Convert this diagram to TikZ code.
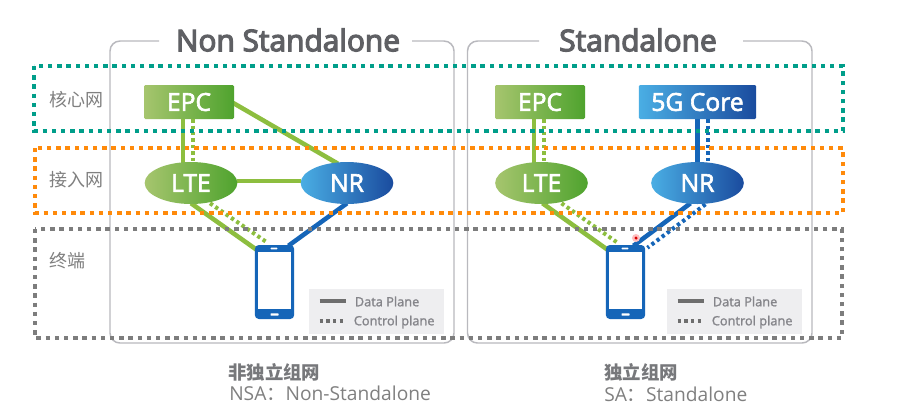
\documentclass[tikz,border=0pt]{standalone}
\usepackage{fontspec}
\setmainfont{Open Sans}
\newfontfamily\cjk{Noto Sans CJK SC}
\newfontfamily\titlefont[FakeBold=4]{Open Sans}
\newfontfamily\unitfont[FakeBold=2.5]{Open Sans}
\newfontfamily\legfont[FakeBold=1.5]{Open Sans}
\usetikzlibrary{calc,shapes.geometric}
\definecolor{tealbox}{HTML}{009E8A}
\definecolor{orangebox}{HTML}{FF8A0A}
\definecolor{graybox}{HTML}{7D7D7D}
\definecolor{frameC}{HTML}{B9B9BE}
\definecolor{titleC}{HTML}{5F6064}
\definecolor{greenL}{HTML}{A6C56E}
\definecolor{greenR}{HTML}{4FA32E}
\definecolor{blueL}{HTML}{4AAEE4}
\definecolor{blueR}{HTML}{1A4B9E}
\definecolor{greenLine}{HTML}{8DBE3F}
\definecolor{blueLine}{HTML}{1565B8}
\definecolor{legBg}{HTML}{EEEEF0}
\definecolor{legLine}{HTML}{6E6E6E}
\definecolor{legText}{HTML}{85858A}
\definecolor{labelC}{HTML}{808080}
\pgfdeclarelayer{conn}
\pgfsetlayers{conn,main}
\tikzset{
  zonebox/.style={line width=3.4pt,dash pattern=on 3.3pt off 3.6pt},
  panel/.style={draw=frameC,line width=1.1pt,rounded corners=7.5pt},
  paneltitle/.style={inner sep=0pt,text=titleC,font=\titlefont\fontsize{22.4}{24}\selectfont},
  unit/.style={inner sep=0pt,text=white,font=\unitfont\fontsize{18.5}{20}\selectfont},
  greenrect/.style={unit,rectangle,rounded corners=1pt,minimum height=25.5pt,left color=greenL,right color=greenR},
  bluerect/.style={unit,rectangle,rounded corners=1pt,minimum height=25.5pt,left color=blueL,right color=blueR},
  greenell/.style={unit,ellipse,minimum width=69.5pt,minimum height=31.5pt,left color=greenL,right color=greenR},
  blueell/.style={unit,ellipse,minimum width=69.5pt,minimum height=31.5pt,left color=blueL,right color=blueR},
  gdata/.style={draw=greenLine,line width=3.4pt},
  gctrl/.style={draw=greenLine,line width=3pt,dash pattern=on 2.5pt off 2.3pt},
  bdata/.style={draw=blueLine,line width=3.4pt},
  bctrl/.style={draw=blueLine,line width=3pt,dash pattern=on 2.5pt off 2.3pt},
  phonebody/.style={rectangle,fill=blueLine,rounded corners=3pt,minimum width=29.5pt,minimum height=55.5pt,inner sep=0pt},
  phonescreen/.style={rectangle,fill=white,minimum width=24.5pt,minimum height=43pt,inner sep=0pt},
  phonebit/.style={rectangle,fill=white,rounded corners=0.4pt,minimum width=6pt,minimum height=1.6pt,inner sep=0pt},
  legendbox/.style={rectangle,fill=legBg,minimum width=101.5pt,minimum height=34pt,inner sep=0pt},
  legendtext/.style={inner sep=0pt,anchor=west,text=legText,font=\legfont\fontsize{9.6}{11}\selectfont},
  legdata/.style={draw=legLine,line width=3pt},
  legctrl/.style={draw=legLine,line width=3pt,dash pattern=on 2.6pt off 2.4pt},
  zonelabel/.style={inner sep=0pt,anchor=west,text=labelC,font=\cjk\fontsize{13.5}{15}\selectfont},
  capbold/.style={inner sep=0pt,anchor=west,text=titleC!85,font=\cjk\bfseries\fontsize{13.8}{15}\selectfont},
  capnorm/.style={inner sep=0pt,anchor=west,text=labelC,font=\fontsize{14.4}{16}\selectfont},
}
\begin{document}
\begin{tikzpicture}[x=0.75pt,y=-0.75pt]
\useasboundingbox (0,0) rectangle (902,419);
% panel titles
\node[paneltitle] (titleA) at (288,40) {Non Standalone};
\node[paneltitle] (titleB) at (638,40) {Standalone};
% panel frames
\begin{pgfonlayer}{conn}
\fill[white] (0,0) rectangle (902,419);
\draw[panel] (159,41) -- (110,41) -- (110,343) -- (454,343) -- (454,41) -- (412,41);
\draw[panel] (539,41) -- (467.5,41) -- (467.5,343) -- (812,343) -- (812,41) -- (743,41);
\end{pgfonlayer}
% zones
\draw[zonebox,draw=tealbox] (34,66) rectangle (843,131);
\draw[zonebox,draw=orangebox] (35,148) rectangle (843,213);
\draw[zonebox,draw=graybox] (35,229) rectangle (842,338);
\node[zonelabel] (zoneCore) at (49,100) {核心网};
\node[zonelabel] (zoneRan) at (49,180) {接入网};
\node[zonelabel] (zoneTerm) at (49,261) {终端};
% left units
\node[greenrect,minimum width=67.5pt] (epcA) at (189,102) {EPC};
\node[greenell] (lteA) at (191,183) {LTE};
\node[blueell] (nrA) at (347,183) {NR};
\node[phonebody] (phA) at (274.5,282) {};
\node[phonescreen] at (274.5,280.5) {};
\node[phonebit] at (274.5,314.5) {};
\node[phonebit,minimum width=5pt,minimum height=1.2pt] at (274,248.5) {};
% right units
\node[greenrect,minimum width=67.5pt] (epcB) at (540,102) {EPC};
\node[bluerect,minimum width=88pt] (coreB) at (697.5,102) {5G Core};
\node[greenell] (lteB) at (541.5,183) {LTE};
\node[blueell] (nrB) at (697.5,183) {NR};
\node[phonebody] (phB) at (625.5,282) {};
\node[phonescreen] at (625.5,280.5) {};
\node[phonebit] at (625.5,314.5) {};
\node[phonebit,minimum width=5pt,minimum height=1.2pt] at (625,248.5) {};
% connectors
\begin{pgfonlayer}{conn}
\draw[gdata] ($(epcA.south)+(-6,-1)$) -- ($(lteA.north)+(-8,2)$);
\draw[gctrl] ($(epcA.south)+(4,0)$) -- ($(lteA.north)+(2,2)$);
\draw[gdata] ($(epcA.east)+(-1,1)$) -- ($(nrA.north)+(-9,2)$);
\draw[gdata] ($(lteA.east)+(-1,-2)$) -- ($(nrA.west)+(1,-2)$);
\draw[gdata] ($(lteA.south)+(0,-1)$) -- ($(phA.north west)+(2,5)$);
\draw[gctrl] ($(lteA.south)+(19,-1)$) -- ($(phA.north)+(-7,-2)$);
\draw[bdata] ($(nrA.south)+(0,-1)$) -- ($(phA.north east)+(-6,1)$);
\draw[gdata] ($(epcB.south)+(-6,-1)$) -- ($(lteB.north)+(-7.5,2)$);
\draw[gctrl] ($(epcB.south)+(4,0)$) -- ($(lteB.north)+(2.5,2)$);
\draw[bdata] ($(coreB.south)+(0,-1)$) -- ($(nrB.north)+(0,2)$);
\draw[bctrl] ($(coreB.south)+(10,0)$) -- ($(nrB.north)+(10,2)$);
\draw[gdata] ($(lteB.south)+(1,-1)$) -- ($(phB.north west)+(2,5)$);
\draw[gctrl] ($(lteB.south)+(20,-1)$) -- ($(phB.north)+(-8,-2)$);
\draw[bdata] ($(nrB.south)+(-7,-1)$) -- ($(phB.north east)+(-12,1)$);
\draw[bctrl] ($(nrB.south)+(8,0)$) -- ($(phB.north east)+(2,3)$);
\end{pgfonlayer}
% red mark
\node[circle,fill=red!25,minimum size=6pt,inner sep=0pt] (mark) at (636,238) {};
\node[circle,fill=red!85!black,minimum size=2.6pt,inner sep=0pt] (markdot) at (636,238) {};
% legends
\node[legendbox] (legA) at (376.5,311.5) {};
\coordinate (legA1) at ($(legA.west)+(11,-11)$);
\coordinate (legA2) at ($(legA.west)+(37,-11)$);
\coordinate (legA3) at ($(legA.west)+(11,9.5)$);
\coordinate (legA4) at ($(legA.west)+(37,9.5)$);
\draw[legdata] (legA1) -- (legA2);
\draw[legctrl] (legA3) -- (legA4);
\node[legendtext] (legAd) at ($(legA.west)+(46,-10)$) {Data Plane};
\node[legendtext] (legAc) at ($(legA.west)+(45,10.5)$) {Control plane};
\node[legendbox] (legB) at (734.5,311.5) {};
\coordinate (legB1) at ($(legB.west)+(11,-11)$);
\coordinate (legB2) at ($(legB.west)+(37,-11)$);
\coordinate (legB3) at ($(legB.west)+(11,9.5)$);
\coordinate (legB4) at ($(legB.west)+(37,9.5)$);
\draw[legdata] (legB1) -- (legB2);
\draw[legctrl] (legB3) -- (legB4);
\node[legendtext] (legBd) at ($(legB.west)+(46,-10)$) {Data Plane};
\node[legendtext] (legBc) at ($(legB.west)+(45,10.5)$) {Control plane};
% captions
\node[capbold] (capA) at (228,372) {非独立组网};
\node[capnorm] (subA) at (229,393.5) {NSA{\cjk：}Non-Standalone};
\node[capbold] (capB) at (604,372) {独立组网};
\node[capnorm] (subB) at (604,394) {SA{\cjk：}Standalone};
\end{tikzpicture}
\end{document}
